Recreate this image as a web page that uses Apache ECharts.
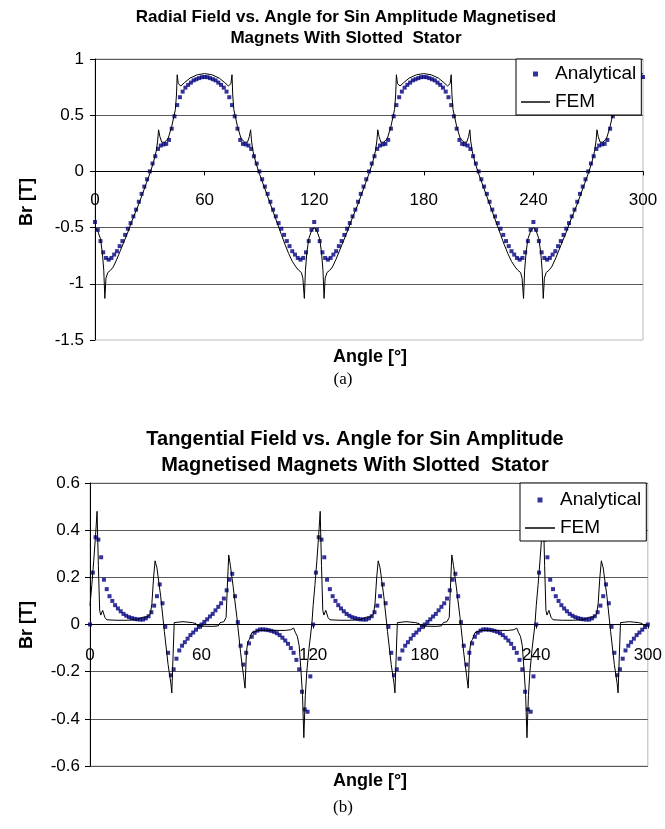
<!DOCTYPE html>
<html><head><meta charset="utf-8">
<script src="https://cdn.jsdelivr.net/npm/echarts@6/dist/echarts.min.js"></script>
<style>html,body{margin:0;padding:0;background:#fff}#c{width:665px;height:829px}</style>
</head><body><div id="c"></div>
<script>
// ---- data ----
const ANGLE_STEP = 1.5; // analytical samples every 1.5 degrees, 0..300
const xTickValues = [0, 60, 120, 180, 240, 300];

const radialAnalytical = [
 -0.45,-0.52,-0.62,-0.72,-0.77,-0.785,-0.77,-0.74,-0.71,-0.665,
 -0.62,-0.565,-0.51,-0.46,-0.40,-0.34,-0.27,-0.20,-0.135,-0.07,
 0.00,0.07,0.135,0.20,0.23,0.24,0.245,0.28,0.38,0.49,
 0.59,0.66,0.71,0.745,0.77,0.79,0.81,0.82,0.83,0.838,
 0.84,0.838,0.83,0.82,0.81,0.79,0.77,0.745,0.71,0.66,
 0.59,0.49,0.38,0.28,0.245,0.24,0.23,0.20,0.135,0.07,
 0.00,-0.07,-0.135,-0.20,-0.27,-0.34,-0.40,-0.46,-0.51,-0.565,
 -0.62,-0.665,-0.71,-0.74,-0.77,-0.785,-0.77,-0.72,-0.62,-0.52,
 -0.45,-0.52,-0.62,-0.72,-0.77,-0.785,-0.77,-0.74,-0.71,-0.665,
 -0.62,-0.565,-0.51,-0.46,-0.40,-0.34,-0.27,-0.20,-0.135,-0.07,
 0.00,0.07,0.135,0.20,0.23,0.24,0.245,0.28,0.38,0.49,
 0.59,0.66,0.71,0.745,0.77,0.79,0.81,0.82,0.83,0.838,
 0.84,0.838,0.83,0.82,0.81,0.79,0.77,0.745,0.71,0.66,
 0.59,0.49,0.38,0.28,0.245,0.24,0.23,0.20,0.135,0.07,
 0.00,-0.07,-0.135,-0.20,-0.27,-0.34,-0.40,-0.46,-0.51,-0.565,
 -0.62,-0.665,-0.71,-0.74,-0.77,-0.785,-0.77,-0.72,-0.62,-0.52,
 -0.45,-0.52,-0.62,-0.72,-0.77,-0.785,-0.77,-0.74,-0.71,-0.665,
 -0.62,-0.565,-0.51,-0.46,-0.40,-0.34,-0.27,-0.20,-0.135,-0.07,
 0.00,0.07,0.135,0.20,0.23,0.24,0.245,0.28,0.38,0.49,
 0.59,0.66,0.71,0.745,0.77,0.79,0.81,0.82,0.83,0.838,
 0.84
];

const radialFemAngles = [
 0,1.5,3,4,4.8,5.4,6,7,8.5,10,12,14,16,18,20,22,24,26,28,30,32,33.5,34.3,34.8,35.5,36.5,38,40,42,44,44.6,45,45.6,47,49,52,56,60,64,68,71,73,74.4,75,75.4,76,78,80,82,83.5,84.5,85.2,85.7,86.5,88,90,92,94,96,98,100,102,104,106,108,110,111.5,113,113.8,114.6,115.2,116,117,118.5,
 120,121.5,123,124,124.8,125.4,126,127,128.5,130,132,134,136,138,140,142,144,146,148,150,152,153.5,154.3,154.8,155.5,156.5,158,160,162,164,164.6,165,165.6,167,169,172,176,180,184,188,191,193,194.4,195,195.4,196,198,200,202,203.5,204.5,205.2,205.7,206.5,208,210,212,214,216,218,220,222,224,226,228,230,231.5,233,233.8,234.6,235.2,236,237,238.5,
 240,241.5,243,244,244.8,245.4,246,247,248.5,250,252,254,256,258,260,262,264,266,268,270,272,273.5,274.3,274.8,275.5,276.5,278,280,282,284,284.6,285,285.6,287,289,292,296,300
];
const radialFemValues = [
 -0.50,-0.53,-0.60,-0.72,-0.88,-1.13,-0.95,-0.90,-0.88,-0.85,-0.78,-0.70,-0.62,-0.54,-0.45,-0.37,-0.29,-0.20,-0.11,-0.02,0.08,0.18,0.27,0.37,0.31,0.26,0.26,0.29,0.40,0.55,0.68,0.86,0.78,0.76,0.79,0.83,0.86,0.87,0.86,0.83,0.79,0.76,0.78,0.86,0.68,0.55,0.40,0.29,0.26,0.26,0.31,0.37,0.27,0.18,0.08,-0.02,-0.11,-0.20,-0.29,-0.38,-0.47,-0.56,-0.65,-0.73,-0.80,-0.85,-0.88,-0.90,-0.95,-1.13,-0.88,-0.72,-0.60,-0.53,
 -0.50,-0.53,-0.60,-0.72,-0.88,-1.13,-0.95,-0.90,-0.88,-0.85,-0.78,-0.70,-0.62,-0.54,-0.45,-0.37,-0.29,-0.20,-0.11,-0.02,0.08,0.18,0.27,0.37,0.31,0.26,0.26,0.29,0.40,0.55,0.68,0.86,0.78,0.76,0.79,0.83,0.86,0.87,0.86,0.83,0.79,0.76,0.78,0.86,0.68,0.55,0.40,0.29,0.26,0.26,0.31,0.37,0.27,0.18,0.08,-0.02,-0.11,-0.20,-0.29,-0.38,-0.47,-0.56,-0.65,-0.73,-0.80,-0.85,-0.88,-0.90,-0.95,-1.13,-0.88,-0.72,-0.60,-0.53,
 -0.50,-0.53,-0.60,-0.72,-0.88,-1.13,-0.95,-0.90,-0.88,-0.85,-0.78,-0.70,-0.62,-0.54,-0.45,-0.37,-0.29,-0.20,-0.11,-0.02,0.08,0.18,0.27,0.37,0.31,0.26,0.26,0.29,0.40,0.55,0.68,0.86,0.78,0.76,0.79,0.83,0.86,0.87
];

const tangentialAnalytical = [
 0,0.22,0.37,0.36,0.285,0.19,0.15,0.12,0.10,0.082,
 0.068,0.056,0.045,0.037,0.031,0.027,0.024,0.022,0.021,0.021,
 0.026,0.035,0.052,0.08,0.12,0.17,0.09,-0.01,-0.12,-0.215,
 -0.19,-0.145,-0.11,-0.09,-0.075,-0.06,-0.045,-0.034,-0.022,-0.011,
 0,0.011,0.022,0.034,0.045,0.06,0.075,0.09,0.11,0.145,
 0.19,0.215,0.12,0.01,-0.09,-0.17,-0.12,-0.08,-0.052,-0.035,
 -0.026,-0.021,-0.021,-0.022,-0.024,-0.027,-0.031,-0.037,-0.045,-0.056,
 -0.068,-0.082,-0.10,-0.12,-0.15,-0.19,-0.285,-0.36,-0.37,-0.22,
 0,0.22,0.37,0.36,0.285,0.19,0.15,0.12,0.10,0.082,
 0.068,0.056,0.045,0.037,0.031,0.027,0.024,0.022,0.021,0.021,
 0.026,0.035,0.052,0.08,0.12,0.17,0.09,-0.01,-0.12,-0.215,
 -0.19,-0.145,-0.11,-0.09,-0.075,-0.06,-0.045,-0.034,-0.022,-0.011,
 0,0.011,0.022,0.034,0.045,0.06,0.075,0.09,0.11,0.145,
 0.19,0.215,0.12,0.01,-0.09,-0.17,-0.12,-0.08,-0.052,-0.035,
 -0.026,-0.021,-0.021,-0.022,-0.024,-0.027,-0.031,-0.037,-0.045,-0.056,
 -0.068,-0.082,-0.10,-0.12,-0.15,-0.19,-0.285,-0.36,-0.37,-0.22,
 0,0.22,0.37,0.36,0.285,0.19,0.15,0.12,0.10,0.082,
 0.068,0.056,0.045,0.037,0.031,0.027,0.024,0.022,0.021,0.021,
 0.026,0.035,0.052,0.08,0.12,0.17,0.09,-0.01,-0.12,-0.215,
 -0.19,-0.145,-0.11,-0.09,-0.075,-0.06,-0.045,-0.034,-0.022,-0.011,
 0
];

const tangentialFemAngles = [
 0,1,2,3,3.8,4.5,5.2,5.8,6.8,8,9,14,20,25,28,31,32.5,33.3,34.2,35,36,38,40,42,43.5,44,44.6,45.3,50,55,57,58,60,66,69,70,72,73.2,73.8,74.6,75.5,77,79,81,82.6,83.4,84.1,84.8,85.7,87,90,95,100,105,108,109.5,110.5,111.5,112.5,113.5,114.3,115,115.8,116.6,117.8,119.3,
 120,121,122,123,123.8,124.5,125.2,125.8,126.8,128,129,134,140,145,148,151,152.5,153.3,154.2,155,156,158,160,162,163.5,164,164.6,165.3,170,175,177,178,180,186,189,190,192,193.2,193.8,194.6,195.5,197,199,201,202.6,203.4,204.1,204.8,205.7,207,210,215,220,225,228,229.5,230.5,231.5,232.5,233.5,234.3,235,235.8,236.6,237.8,239.3,
 240,241,242,243,243.8,244.5,245.2,245.8,246.8,248,249,254,260,265,268,271,272.5,273.3,274.2,275,276,278,280,282,283.5,284,284.6,285.3,290,295,297,298,300
];
const tangentialFemValues = [
 0.08,0.17,0.27,0.38,0.48,0.25,0.06,0.04,0.06,0.03,0.02,0.018,0.018,0.02,0.03,0.033,0.045,0.09,0.2,0.27,0.24,0.12,-0.03,-0.17,-0.25,-0.29,-0.15,0.008,0.012,0.008,0.004,-0.006,-0.007,-0.008,-0.006,0.008,0.012,0.03,0.15,0.295,0.25,0.16,0.03,-0.12,-0.22,-0.27,-0.12,-0.075,-0.063,-0.035,-0.026,-0.025,-0.025,-0.025,-0.022,-0.015,-0.035,-0.05,-0.09,-0.2,-0.3,-0.48,-0.3,-0.2,-0.1,0.0,
 0.08,0.17,0.27,0.38,0.48,0.25,0.06,0.04,0.06,0.03,0.02,0.018,0.018,0.02,0.03,0.033,0.045,0.09,0.2,0.27,0.24,0.12,-0.03,-0.17,-0.25,-0.29,-0.15,0.008,0.012,0.008,0.004,-0.006,-0.007,-0.008,-0.006,0.008,0.012,0.03,0.15,0.295,0.25,0.16,0.03,-0.12,-0.22,-0.27,-0.12,-0.075,-0.063,-0.035,-0.026,-0.025,-0.025,-0.025,-0.022,-0.015,-0.035,-0.05,-0.09,-0.2,-0.3,-0.48,-0.3,-0.2,-0.1,0.0,
 0.08,0.17,0.27,0.38,0.48,0.25,0.06,0.04,0.06,0.03,0.02,0.018,0.018,0.02,0.03,0.033,0.045,0.09,0.2,0.27,0.24,0.12,-0.03,-0.17,-0.25,-0.29,-0.15,0.008,0.012,0.008,0.004,-0.006,-0.007
];

const radialTitle = ['Radial Field vs. Angle for Sin Amplitude Magnetised', 'Magnets With Slotted  Stator'];
const tangentialTitle = ['Tangential Field vs. Angle for Sin Amplitude', 'Magnetised Magnets With Slotted  Stator'];
const seriesNames = ['Analytical', 'FEM'];

// ---- chart ----
const FONT = '"Liberation Sans", Arial, sans-serif';
const NAVY = '#000080';
function stepPairs(v) { return v.map((y, i) => [i * ANGLE_STEP, y]); }
function zip(a, v) { return a.map((x, i) => [x, v[i]]); }

function xAxisCfg(grid, margin, offset) {
  return {
    gridIndex: grid, type: 'value', min: xTickValues[0], max: xTickValues[xTickValues.length - 1],
    interval: xTickValues[1] - xTickValues[0], offset: offset,
    axisLine: { onZero: false, lineStyle: { color: '#000', width: 1 } },
    axisTick: { show: true, length: 4, lineStyle: { color: '#000' } },
    axisLabel: { margin: margin, fontSize: 17, color: '#000', fontFamily: FONT },
    splitLine: { show: false }
  };
}
function yAxisCfg(grid, min, max, interval, margin, showMin) {
  return {
    gridIndex: grid, type: 'value', min: min, max: max, interval: interval,
    axisLine: { show: true, onZero: false, lineStyle: { color: '#000', width: 1 } },
    axisTick: { show: true, length: 5, lineStyle: { color: '#000' } },
    axisLabel: { margin: margin, fontSize: 17, color: '#000', fontFamily: FONT,
      formatter: v => String(Math.round(v * 100) / 100) },
    splitLine: { show: true, showMinLine: showMin, lineStyle: { color: '#5a5a5a', width: 1 } }
  };
}
function legendCfg(left, top, padding, itemWidth) {
  return {
    left: left, top: top, orient: 'vertical', padding: padding, itemGap: 6,
    itemWidth: itemWidth, itemHeight: 5, symbolKeepAspect: true,
    backgroundColor: '#fff', borderColor: '#000', borderWidth: 1, borderRadius: 0,
    textStyle: { fontSize: 19, fontFamily: FONT, color: '#000', lineHeight: 22 },
    data: [
      { name: seriesNames[0], icon: 'path://M0,0h10v10h-10z' },
      { name: seriesNames[1], icon: 'path://M0,0h20v1h-20z' }
    ],
    selectedMode: false
  };
}
function txt(text, x, y, font, rot) {
  return { type: 'text', x: x, y: y, rotation: rot || 0, z: 10,
    style: { text: text, font: font, fill: '#000', align: 'center', verticalAlign: 'middle' } };
}

const chart = echarts.init(document.getElementById('c'), null, { renderer: 'canvas' });
const option = {
  animation: false,
  backgroundColor: '#fff',
  grid: [
    { left: 95, top: 59, width: 548, height: 281, show: true, borderColor: '#b8b8b8', borderWidth: 1, backgroundColor: 'transparent' },
    { left: 90, top: 483, width: 560, height: 283, show: true, borderColor: '#b8b8b8', borderWidth: 1, backgroundColor: 'transparent' }
  ],
  xAxis: [xAxisCfg(0, 20, -168.6), xAxisCfg(1, 22, -141.5)],
  yAxis: [yAxisCfg(0, -1.5, 1, 0.5, 11, false), yAxisCfg(1, -0.6, 0.6, 0.2, 10, true)],
  legend: [legendCfg(516, 59, [4, 5, 2, 5], 29), legendCfg(520, 483, [6, 5, 2, 5], 30)],
  series: [
    { name: seriesNames[0], type: 'scatter', xAxisIndex: 0, yAxisIndex: 0, symbol: 'rect', symbolSize: 4,
      itemStyle: { color: NAVY }, data: stepPairs(radialAnalytical), clip: false },
    { name: seriesNames[1], type: 'line', xAxisIndex: 0, yAxisIndex: 0, symbol: 'none', showSymbol: false,
      lineStyle: { color: '#000', width: 1 }, itemStyle: { color: '#000' }, data: zip(radialFemAngles, radialFemValues) },
    { name: seriesNames[0], type: 'scatter', xAxisIndex: 1, yAxisIndex: 1, symbol: 'rect', symbolSize: 4,
      itemStyle: { color: NAVY }, data: stepPairs(tangentialAnalytical), clip: false },
    { name: seriesNames[1], type: 'line', xAxisIndex: 1, yAxisIndex: 1, symbol: 'none', showSymbol: false,
      lineStyle: { color: '#000', width: 1 }, itemStyle: { color: '#000' }, data: zip(tangentialFemAngles, tangentialFemValues) }
  ],
  graphic: [
    txt(radialTitle[0], 346, 17, 'bold 17px ' + FONT),
    txt(radialTitle[1], 346, 38, 'bold 17px ' + FONT),
    txt('Br [T]', 27, 202, 'bold 18px ' + FONT, Math.PI / 2),
    txt('Angle [°]', 370, 357, 'bold 18px ' + FONT),
    txt('(a)', 343, 380, '17px "Liberation Serif", "Times New Roman", serif'),
    txt(tangentialTitle[0], 355, 439, 'bold 20px ' + FONT),
    txt(tangentialTitle[1], 355, 465, 'bold 20px ' + FONT),
    txt('Br [T]', 27, 625, 'bold 18px ' + FONT, Math.PI / 2),
    txt('Angle [°]', 370, 781, 'bold 18px ' + FONT),
    txt('(b)', 343, 808, '17px "Liberation Serif", "Times New Roman", serif')
  ]
};
chart.setOption(option);
</script>
</body></html>
